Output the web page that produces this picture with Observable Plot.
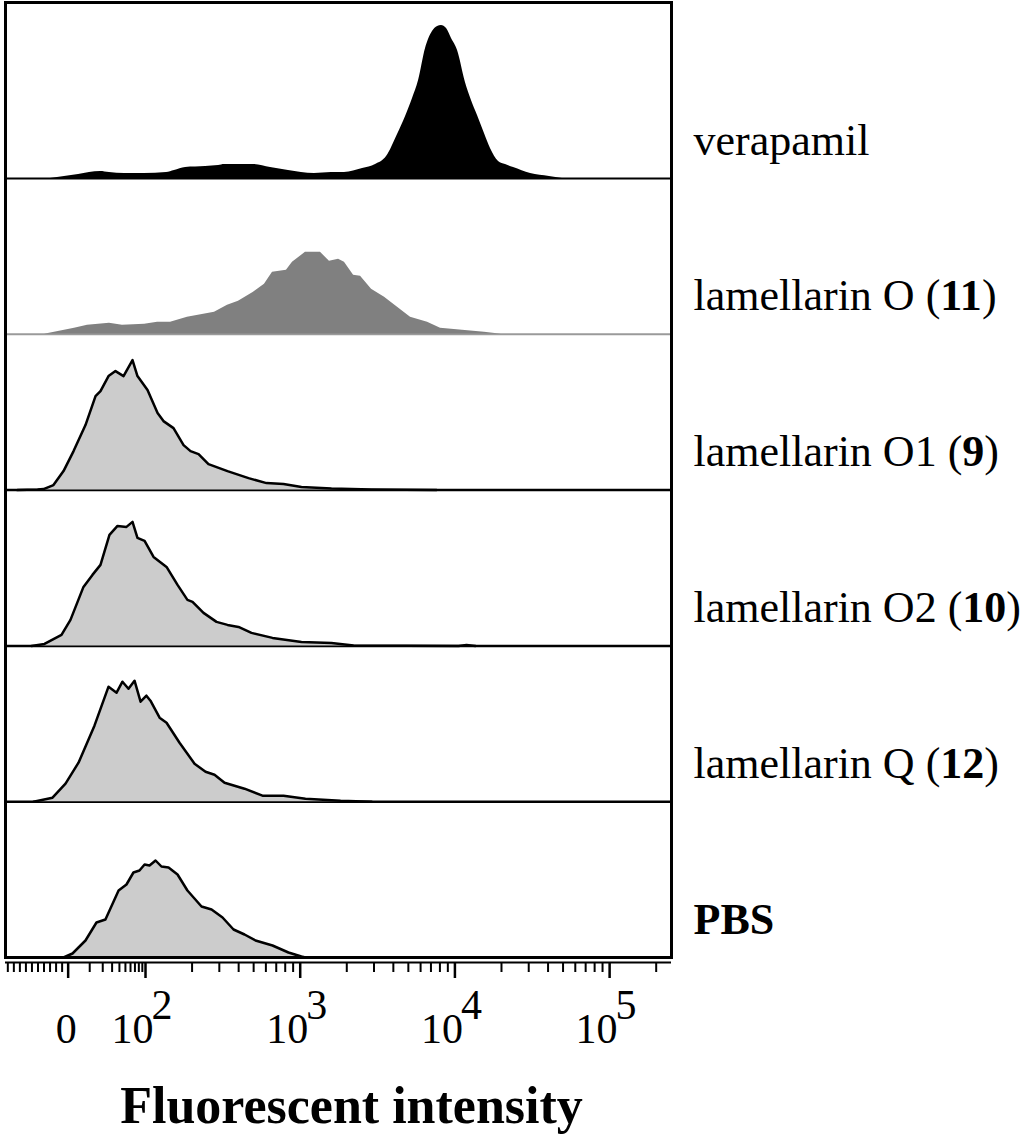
<!DOCTYPE html>
<html><head><meta charset="utf-8">
<script src="https://cdn.jsdelivr.net/npm/d3@7"></script>
<script src="https://cdn.jsdelivr.net/npm/@observablehq/plot@0.6"></script>
<style>html,body{margin:0;padding:0;background:#fff;}</style>
</head><body><div id="chart"></div>
<script>
// ---- data (x = display position in log10 decades of fluorescent intensity, count in a.u.) ----
const seriesNames = ["verapamil", "lamellarin O", "lamellarin O1", "lamellarin O2", "lamellarin Q", "PBS"];
const compoundNumbers = [null, "11", "9", "10", "12", null];
const boldNames = [false, false, false, false, false, true];

const verapamilX = [1.386,1.431,1.567,1.709,1.767,1.864,1.993,2.136,2.187,2.259,2.388,2.472,2.511,2.698,2.808,2.924,3.092,3.202,3.286,3.403,3.487,3.558,3.629,3.681,3.726,3.765,3.810,3.855,3.888,3.913,3.946,3.978,4.017,4.068,4.107,4.146,4.191,4.230,4.282,4.327,4.379,4.489,4.611,4.695];
const verapamilCount = [0,1,4,7,6,5,5,6,8,11,12,13,14,14,11,8,5,6,6,10,14,22,44,62,80,98,130,147,152,153,150,140,128,96,78,63,45,30,17,14,11,5,2,0];

const lamOX = [1.347,1.444,1.541,1.625,1.767,1.851,1.994,2.078,2.162,2.271,2.446,2.530,2.601,2.698,2.769,2.821,2.911,2.950,3.034,3.131,3.189,3.248,3.286,3.345,3.390,3.461,3.545,3.629,3.713,3.823,3.907,4.049,4.191,4.301];
const lamOCount = [0,3,6,9,11,9,10,12,12,17,22,29,33,42,50,62,64,72,82,82,73,75,72,59,58,45,37,27,17,12,6,4,2,0];

const lamO1X = [1.173,1.302,1.341,1.405,1.470,1.535,1.612,1.677,1.709,1.761,1.806,1.858,1.916,1.948,2.013,2.078,2.116,2.181,2.246,2.291,2.343,2.407,2.530,2.666,2.782,2.892,3.008,3.202,3.461,3.881];
const lamO1Count = [0,0.5,1,5,19,39,65,94,99,114,119,114,130,114,100,77,69,62,45,39,36,26,19,12,7,6,3,1.5,0.5,0];

const lamO2X = [1.263,1.347,1.457,1.515,1.599,1.657,1.709,1.767,1.819,1.877,1.916,1.948,1.994,2.052,2.136,2.207,2.271,2.304,2.375,2.459,2.530,2.601,2.685,2.821,3.008,3.202,3.345,4.023,4.075,4.133];
const lamO2Count = [0,2,11,26,59,71,81,111,120,119,124,108,105,89,79,61,46,44,33,24,21,19,13,8,4,3,0.5,0,1,0];

const lamQX = [1.276,1.399,1.483,1.567,1.670,1.761,1.813,1.851,1.890,1.929,1.968,2.006,2.032,2.091,2.136,2.220,2.317,2.388,2.446,2.511,2.640,2.756,2.892,3.034,3.261,3.461];
const lamQCount = [0,4,18,39,76,115,109,120,113,121,100,106,101,84,79,59,38,30,27,19,13,6,6,3,1,0];

const pbsX = [1.470,1.528,1.612,1.683,1.741,1.826,1.877,1.922,1.961,1.994,2.026,2.065,2.103,2.149,2.207,2.271,2.362,2.427,2.498,2.569,2.640,2.711,2.821,2.924,3.008,3.034];
const pbsCount = [0,4,17,35,38,67,73,85,87,93,92,97,91,90,83,67,51,48,40,28,23,17,12,5,1,0];

const majorTickValues = [0, 100, 1000, 10000, 100000];
const minorTickValues = [-100,-90,-80,-70,-60,-50,-40,-30,-20,-10,
  10,20,30,40,50,60,70,80,90,
  200,300,400,500,600,700,800,900,
  2000,3000,4000,5000,6000,7000,8000,9000,
  20000,30000,40000,50000,60000,70000,80000,90000,
  200000];
const tickLabelValues = [0, 100, 1000, 10000, 100000];
const tickLabelBases = ["0", "10", "10", "10", "10"];
const tickLabelExponents = ["", "2", "3", "4", "5"];
const axisTitle = "Fluorescent intensity";

// ---- display transform (biexponential-like) for tick values ----
function display(v) {
  if (v >= 100) return Math.log10(v);
  if (v >= 0) return 1.5 + 0.5 * Math.log10(1 + 0.09 * v);
  return 1.5 + 0.0039 * v;
}

// ---- styles ----
const fills = ["#000000", "#808080", "#cccccc", "#cccccc", "#cccccc", "#cccccc"];
const outlined = [false, false, true, true, true, true];
const curves = ["monotone-x", "linear", "linear", "linear", "linear", "linear"];
const baseStroke = ["#000000", "#9a9a9a", "#000000", "#000000", "#000000", "#000000"];
const step = 155.8;

const xs = [verapamilX, lamOX, lamO1X, lamO2X, lamQX, pbsX];
const cs = [verapamilCount, lamOCount, lamO1Count, lamO2Count, lamQCount, pbsCount];

const labelStrings = seriesNames.map((n, i) => compoundNumbers[i] ? `${n} (${compoundNumbers[i]})` : n);
const labelRows = seriesNames.map((n, i) => ({label: labelStrings[i], base: (seriesNames.length - 1 - i) * step}));

const marks = [];
seriesNames.forEach((name, i) => {
  const base = (seriesNames.length - 1 - i) * step;
  const rows = xs[i].map((x, j) => ({x, base, top: base + cs[i][j]}));
  marks.push(Plot.ruleY([base], {stroke: baseStroke[i], strokeWidth: i < 2 ? 2 : 2.5}));
  marks.push(Plot.areaY(rows, {x: "x", y1: "base", y2: "top", fill: fills[i], curve: curves[i]}));
  if (outlined[i]) marks.push(Plot.lineY(rows, {x: "x", y: "top", stroke: "black", strokeWidth: 2.5, strokeLinejoin: "round", curve: curves[i]}));
});

const tickRows = tickLabelValues.map((v, i) => ({d: display(v), base: tickLabelBases[i], exp: tickLabelExponents[i]}));

marks.push(
  Plot.frame({stroke: "black", strokeWidth: 3}),
  Plot.ruleY([0], {dy: 5, strokeWidth: 2}),
  Plot.axisX(majorTickValues.map(display), {tickSize: 16, strokeWidth: 2.5, dy: 5, tickFormat: () => "", label: null}),
  Plot.axisX(minorTickValues.map(display), {tickSize: 10, strokeWidth: 2, dy: 5, tickFormat: () => "", label: null}),
  Plot.text(tickRows.filter(d => !d.exp), {x: "d", text: "base", frameAnchor: "bottom", lineAnchor: "bottom", textAnchor: "middle", dy: 85, dx: -2, fontSize: 42}),
  Plot.text(tickRows.filter(d => d.exp), {x: "d", text: "base", frameAnchor: "bottom", lineAnchor: "bottom", textAnchor: "end", dy: 85, dx: 8, fontSize: 42}),
  Plot.text(tickRows.filter(d => d.exp), {x: "d", text: "exp", frameAnchor: "bottom", lineAnchor: "bottom", textAnchor: "start", dy: 61, dx: 6, fontSize: 42}),
  Plot.text([axisTitle], {text: d => d, frameAnchor: "bottom", lineAnchor: "bottom", dy: 165, dx: 13, fontSize: 52, fontWeight: "bold"}),
  Plot.text(labelRows, {y: "base", text: "label", frameAnchor: "right", textAnchor: "start", lineAnchor: "bottom", dx: 22, dy: -24, fontSize: 44})
);

const chart = Plot.plot({
  width: 1024,
  height: 1143,
  marginLeft: 5,
  marginRight: 353,
  marginTop: 2,
  marginBottom: 186,
  style: {background: "white", fontFamily: "'Liberation Serif', 'Times New Roman', serif", color: "black"},
  x: {domain: [1.095, 5.400], label: null},
  y: {domain: [0, 955], axis: null},
  marks
});

// bold compound numbers / bold label
const SVGNS = "http://www.w3.org/2000/svg";
chart.querySelectorAll("text").forEach(t => {
  const i = labelStrings.indexOf(t.textContent);
  if (i < 0) return;
  if (boldNames[i]) { t.setAttribute("font-weight", "bold"); return; }
  if (!compoundNumbers[i]) return;
  t.textContent = "";
  t.appendChild(document.createTextNode(`${seriesNames[i]} (`));
  const b = document.createElementNS(SVGNS, "tspan");
  b.setAttribute("font-weight", "bold");
  b.textContent = compoundNumbers[i];
  t.appendChild(b);
  t.appendChild(document.createTextNode(")"));
});

document.getElementById("chart").appendChild(chart);
</script>
</body></html>
